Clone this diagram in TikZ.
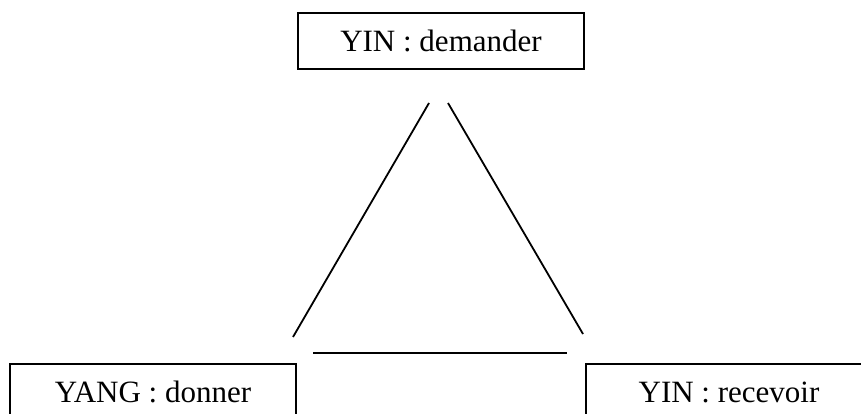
\documentclass[tikz,border=0pt]{standalone}
\usepackage{fontspec}
\setmainfont{Liberation Serif}
\begin{document}
\begin{tikzpicture}[x=1pt,y=-1pt,
  yybox/.style={draw, line width=2pt, minimum width=286pt, minimum height=56pt,
    inner sep=0pt, font=\fontsize{31}{36}\selectfont},
  link/.style={line width=1.8pt}]
\clip (0,0) rectangle (861,414);
\useasboundingbox (0,0) rectangle (861,414);
\node[yybox] (top) at (441,41) {YIN : demander};
\node[yybox] (left) at (153,392) {YANG : donner};
\node[yybox] (right) at (729,392) {YIN : recevoir};
\coordinate (l1) at (293,337);
\coordinate (l2) at (429,103);
\coordinate (r1) at (448,103);
\coordinate (r2) at (583,334);
\coordinate (h1) at (313,353);
\coordinate (h2) at (567,353);
\draw[link] (l1) -- (l2);
\draw[link] (r1) -- (r2);
\draw[link] (h1) -- (h2);
\end{tikzpicture}
\end{document}
